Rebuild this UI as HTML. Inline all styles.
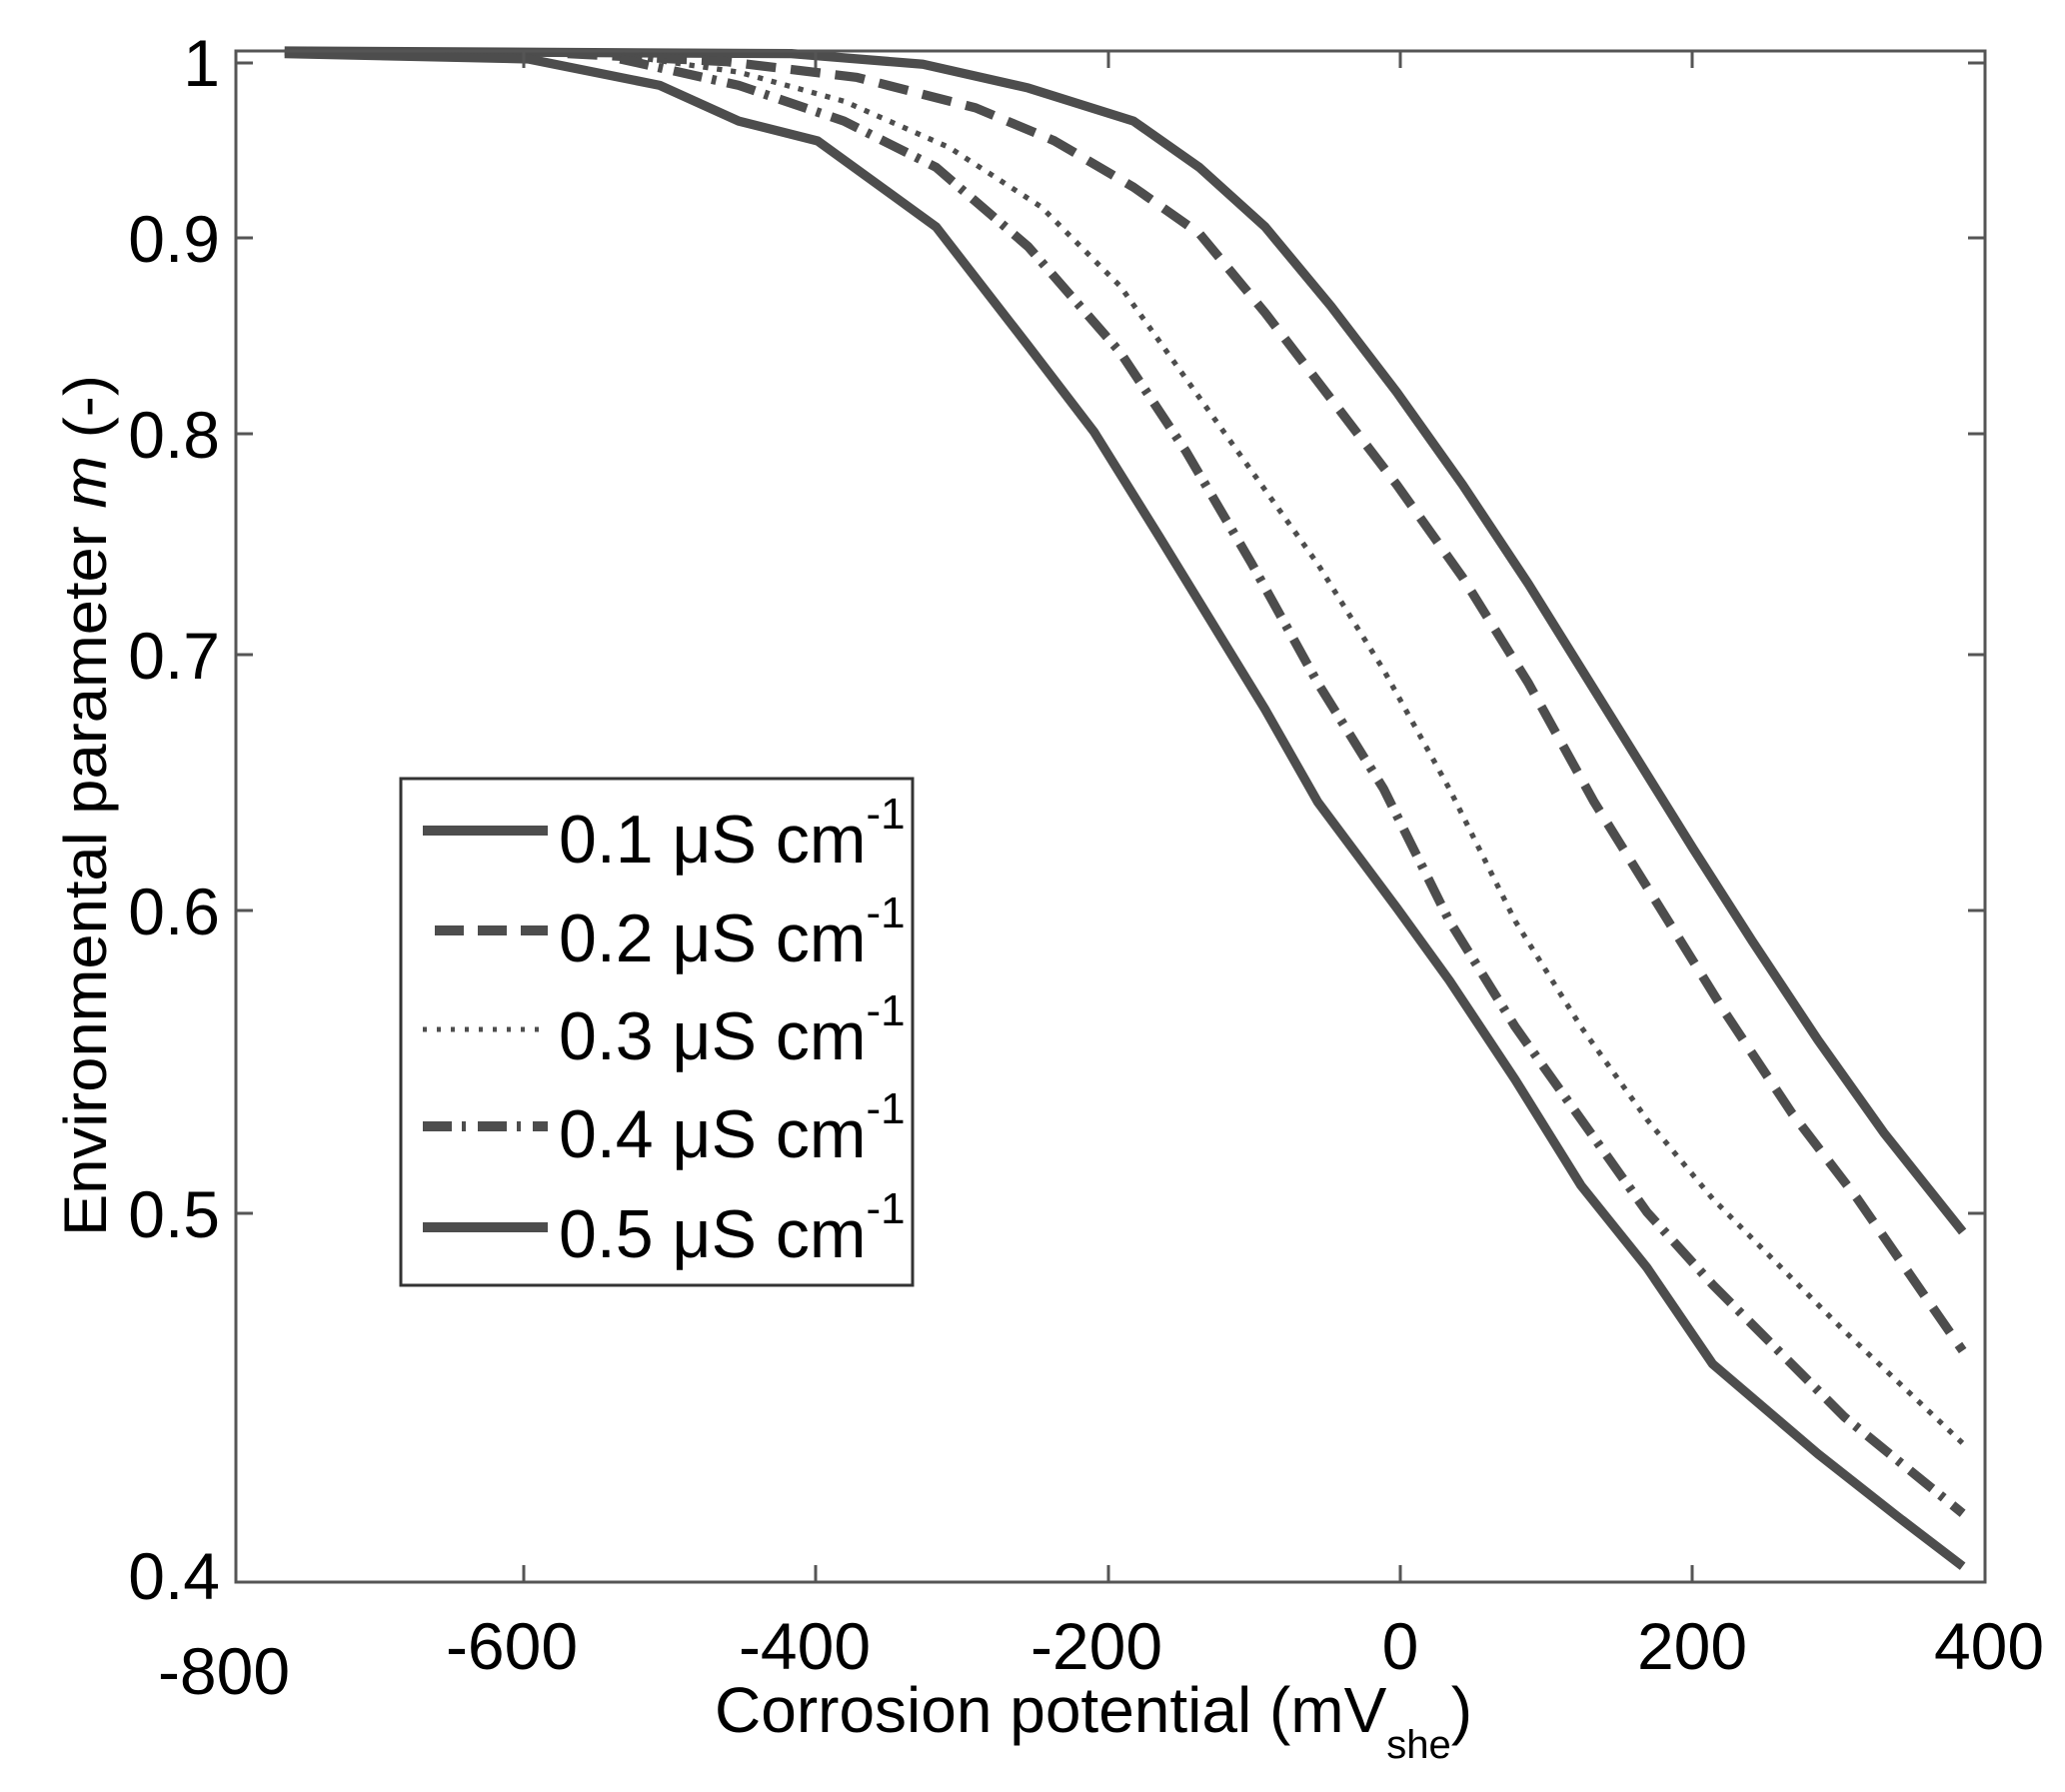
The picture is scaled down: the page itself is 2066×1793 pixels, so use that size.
<!DOCTYPE html>
<html><head><meta charset="utf-8"><style>
html,body{margin:0;padding:0;background:#fff;}
svg{display:block;}
text{font-family:"Liberation Sans",Arial,sans-serif;fill:#000;}
</style></head><body>
<svg width="2066" height="1793" viewBox="0 0 2066 1793" xmlns="http://www.w3.org/2000/svg">
<rect width="2066" height="1793" fill="#fff"/>
<g transform="matrix(1.3168 0 0 1.323 1.61 -4.57)" fill="none" stroke="#4d4d4d" stroke-linejoin="round">
<polyline stroke-width="7" points="215,42 600,44 700,52 780,70 860,95 910,130 960,175 1010,235 1060,300 1110,370 1160,445 1210,525 1260,605 1285,645 1330,715 1380,790 1430,860 1490,935"/>
<polyline stroke-width="7" stroke-dasharray="22.7 11.3" points="430,44 550,50 650,62 740,85 800,110 860,145 910,180 960,240 1010,305 1060,370 1110,440 1160,520 1210,610 1260,690 1310,770 1360,845 1410,910 1490,1025"/>
<polyline stroke-width="4" stroke-dasharray="4 6.6" points="470,45 560,58 640,80 720,115 790,160 850,220 900,290 950,360 1000,430 1050,510 1100,600 1150,700 1200,780 1250,850 1300,910 1350,960 1400,1010 1490,1095"/>
<polyline stroke-width="7" stroke-dasharray="22 7.6 3.5 8.5" points="470,48 560,68 640,95 710,130 780,190 850,270 900,345 950,430 1000,520 1050,600 1100,700 1150,780 1200,850 1250,920 1300,975 1350,1025 1400,1075 1490,1148"/>
<polyline stroke-width="7" points="215,44 400,48 500,68 560,95 620,110 710,175 780,265 830,330 880,410 920,475 960,540 1000,610 1060,690 1100,745 1150,820 1200,900 1250,962 1300,1035 1380,1103 1440,1150 1490,1188"/>
</g>
<rect x="236" y="51" width="1750" height="1532" fill="none" stroke="#555" stroke-width="3"/>
<g stroke="#555" stroke-width="3">
<line x1="524" y1="1583" x2="524" y2="1566"/><line x1="524" y1="51" x2="524" y2="68"/>
<line x1="816" y1="1583" x2="816" y2="1566"/><line x1="816" y1="51" x2="816" y2="68"/>
<line x1="1109" y1="1583" x2="1109" y2="1566"/><line x1="1109" y1="51" x2="1109" y2="68"/>
<line x1="1401" y1="1583" x2="1401" y2="1566"/><line x1="1401" y1="51" x2="1401" y2="68"/>
<line x1="1693" y1="1583" x2="1693" y2="1566"/><line x1="1693" y1="51" x2="1693" y2="68"/>
<line x1="236" y1="63" x2="253" y2="63"/><line x1="1986" y1="63" x2="1969" y2="63"/>
<line x1="236" y1="238" x2="253" y2="238"/><line x1="1986" y1="238" x2="1969" y2="238"/>
<line x1="236" y1="434" x2="253" y2="434"/><line x1="1986" y1="434" x2="1969" y2="434"/>
<line x1="236" y1="655" x2="253" y2="655"/><line x1="1986" y1="655" x2="1969" y2="655"/>
<line x1="236" y1="911" x2="253" y2="911"/><line x1="1986" y1="911" x2="1969" y2="911"/>
<line x1="236" y1="1214" x2="253" y2="1214"/><line x1="1986" y1="1214" x2="1969" y2="1214"/>
</g>
<g font-size="66" text-anchor="end">
<text x="220" y="86">1</text>
<text x="220" y="262">0.9</text>
<text x="220" y="458">0.8</text>
<text x="220" y="679">0.7</text>
<text x="220" y="935">0.6</text>
<text x="220" y="1238">0.5</text>
<text x="220" y="1600">0.4</text>
</g>
<g font-size="66" text-anchor="middle">
<text x="224" y="1695">-800</text>
<text x="512" y="1670">-600</text>
<text x="805" y="1670">-400</text>
<text x="1097" y="1670">-200</text>
<text x="1401" y="1670">0</text>
<text x="1693" y="1670">200</text>
<text x="1990" y="1670">400</text>
</g>
<text x="715" y="1733" font-size="64">Corrosion potential (mV<tspan font-size="40" dy="26">she</tspan><tspan dy="-26">)</tspan></text>
<text transform="translate(106,1237) rotate(-90)" font-size="60" textLength="862" lengthAdjust="spacingAndGlyphs">Environmental parameter <tspan font-style="italic">m</tspan> (-)</text>
<rect x="401" y="779" width="512" height="507" fill="#fff" stroke="#333" stroke-width="3"/>
<g stroke="#4d4d4d" stroke-width="10" fill="none">
<line x1="423" y1="831" x2="548" y2="831"/>
<line x1="435" y1="931" x2="548" y2="931" stroke-dasharray="29 14"/>
<line x1="423" y1="1030" x2="548" y2="1030" stroke-width="5" stroke-dasharray="4 10"/>
<line x1="423" y1="1127" x2="548" y2="1127" stroke-dasharray="29 10 4 12"/>
<line x1="423" y1="1228" x2="548" y2="1228"/>
</g>
<g font-size="68">
<text x="559" y="863">0.1 μS cm<tspan font-size="44" dy="-34">-1</tspan></text>
<text x="559" y="962">0.2 μS cm<tspan font-size="44" dy="-34">-1</tspan></text>
<text x="559" y="1060">0.3 μS cm<tspan font-size="44" dy="-34">-1</tspan></text>
<text x="559" y="1158">0.4 μS cm<tspan font-size="44" dy="-34">-1</tspan></text>
<text x="559" y="1258">0.5 μS cm<tspan font-size="44" dy="-34">-1</tspan></text>
</g>
</svg>
</body></html>
